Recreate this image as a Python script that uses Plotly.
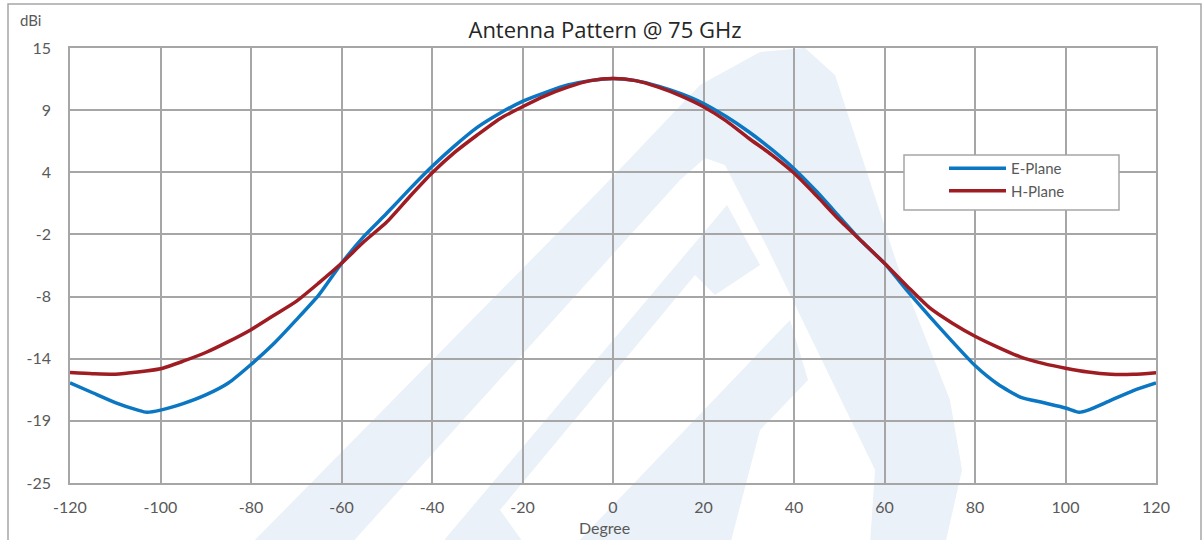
import plotly.graph_objects as go

# ---------------- data ----------------
e_deg = [-120, -115, -110, -105, -103, -100, -95, -90, -85, -80, -75, -70, -65, -60, -55, -50,
         -45, -40, -35, -30, -25, -20, -15, -10, -5, 0, 5, 10, 15, 20, 25, 30, 35, 40, 45,
         50, 55, 60, 65, 70, 75, 80, 85, 90, 95, 100, 103, 105, 110, 115, 120]
e_plane = [-15.8, -16.7, -17.6, -18.3, -18.5, -18.3, -17.7, -16.9, -15.8, -14.1, -12.2, -10.0,
           -7.7, -4.8, -2.3, -0.2, 2.0, 4.1, 6.0, 7.7, 9.0, 10.1, 10.9, 11.6, 12.0, 12.2, 12.0,
           11.5, 10.8, 9.9, 8.7, 7.3, 5.7, 3.9, 1.8, -0.5, -2.8, -4.8, -7.3, -9.7, -12.0,
           -14.2, -15.9, -17.1, -17.6, -18.1, -18.5, -18.3, -17.4, -16.5, -15.8]

h_deg = [-120, -115, -110, -105, -100, -95, -90, -85, -80, -75, -70, -65, -60, -55, -50, -45,
         -40, -35, -30, -25, -20, -15, -10, -5, 0, 5, 10, 15, 20, 25, 30, 35, 40, 45, 50, 55,
         60, 65, 70, 75, 80, 85, 90, 95, 100, 105, 110, 115, 120]
h_plane = [-14.85, -14.95, -15.0, -14.8, -14.5, -13.8, -13.0, -12.0, -10.9, -9.6, -8.3, -6.6,
           -4.8, -2.8, -1.0, 1.3, 3.5, 5.4, 7.0, 8.5, 9.6, 10.6, 11.4, 12.0, 12.2, 12.0, 11.4,
           10.6, 9.6, 8.3, 6.7, 5.2, 3.5, 1.4, -0.8, -2.8, -4.8, -6.9, -8.9, -10.3, -11.5,
           -12.5, -13.4, -14.0, -14.45, -14.8, -15.0, -15.0, -14.85]

y_tickvals = [-25 + k * 40 / 7 for k in range(8)]
y_ticktext = ["-25", "-19", "-14", "-8", "-2", "4", "9", "15"]
x_tickvals = [-120, -100, -80, -60, -40, -20, 0, 20, 40, 60, 80, 100, 120]
x_ticktext = ["-120", "-100", "-80", "-60", "-40", "-20", "0", "20", "40", "60", "80", "100", "120"]

# ---------------- layout helpers ----------------
W, H = 1203, 540
ML, MR, MT, MB = 70, 47, 48, 57
PW, PH = W - ML - MR, H - MT - MB


def px(x, y):
    """pixel -> paper coords (decoration only)"""
    return (x - ML) / PW, (H - MB - y) / PH


def path(points):
    s = ""
    for i, (x, y) in enumerate(points):
        X, Y = px(x, y)
        s += ("M" if i == 0 else "L") + f"{X:.4f},{Y:.4f} "
    return s + "Z"


WM = "#EBF1F8"
grey_txt = "#595959"
grid = "#A6A6A6"
FONT = "Lato, 'Open Sans', sans-serif"

fig = go.Figure()
fig.add_trace(go.Scatter(x=e_deg, y=e_plane, mode="lines", name="E-Plane",
                         line=dict(color="#0B77C2", width=3.5, shape="spline", smoothing=0.6)))
fig.add_trace(go.Scatter(x=h_deg, y=h_plane, mode="lines", name="H-Plane",
                         line=dict(color="#9E1C22", width=3.5, shape="spline", smoothing=0.6)))

shapes = []
# watermark (background logo)
arch = [(250, 545), (600, 190), (700, 85), (760, 52), (805, 48), (835, 75), (900, 273),
        (950, 400), (962, 470), (945, 545), (870, 545), (875, 470), (767, 247), (725, 165),
        (705, 158), (680, 180), (350, 545)]
chev2 = [(440, 545), (727, 205), (760, 265), (715, 295), (695, 275), (500, 510), (525, 545)]
chev3 = [(575, 545), (790, 320), (808, 380), (760, 430), (730, 545)]
for poly in (arch, chev2, chev3):
    shapes.append(dict(type="path", xref="paper", yref="paper", path=path(poly),
                       fillcolor=WM, line=dict(width=0), layer="below"))

# outer chart border
x0, y0 = px(8, 560)
x1, y1 = px(1201, 4)
shapes.append(dict(type="rect", xref="paper", yref="paper", x0=x0, y0=y0, x1=x1, y1=y1,
                   line=dict(color="#A6A6A6", width=1.5), fillcolor="rgba(0,0,0,0)",
                   layer="above"))
# legend box
lx0, ly0 = px(904, 210)
lx1, ly1 = px(1119, 155)
shapes.append(dict(type="rect", xref="paper", yref="paper", x0=lx0, y0=ly0, x1=lx1, y1=ly1,
                   line=dict(color="#A6A6A6", width=1.5), fillcolor="white", layer="above"))

lgx, lgy = px(944, 152)

fig.update_layout(
    width=W, height=H,
    margin=dict(l=ML, r=MR, t=MT, b=MB),
    paper_bgcolor="rgba(0,0,0,0)", plot_bgcolor="rgba(0,0,0,0)",
    font=dict(family=FONT, color=grey_txt, size=15),
    title=dict(text="Antenna Pattern @ 75 GHz", x=px(605, 0)[0], xref="paper",
               xanchor="center", y=1 - 30 / H, yanchor="middle",
               font=dict(family="'Open Sans', sans-serif", size=22, color="#262626")),
    showlegend=True,
    legend=dict(x=lgx, y=lgy, xanchor="left", yanchor="top", bgcolor="rgba(0,0,0,0)",
                borderwidth=0, itemwidth=57, font=dict(size=15, color=grey_txt),
                tracegroupgap=14),
    shapes=shapes,
    annotations=[
        dict(text="dBi", x=px(30, 20)[0], y=px(30, 20)[1], xref="paper", yref="paper",
             xanchor="center", yanchor="middle",
             showarrow=False, font=dict(size=15, color=grey_txt)),
        dict(text="Degree", x=px(604, 527)[0], y=px(604, 527)[1], xref="paper", yref="paper",
             xanchor="center", yanchor="middle",
             showarrow=False, font=dict(size=16, color=grey_txt)),
    ],
)
fig.update_xaxes(range=[-120, 120], tickvals=x_tickvals, ticktext=x_ticktext, showgrid=True,
                 gridcolor=grid, gridwidth=1.5, showline=True, linecolor=grid, linewidth=1.5,
                 mirror=True, zeroline=False, ticks="", ticklabelstandoff=9,
                 tickfont=dict(size=16, color=grey_txt))
fig.update_yaxes(range=[-25, 15], tickvals=y_tickvals, ticktext=y_ticktext, showgrid=True,
                 gridcolor=grid, gridwidth=1.5, showline=True, linecolor=grid, linewidth=1.5,
                 mirror=True, zeroline=False, ticks="", ticklabelstandoff=14,
                 tickfont=dict(size=16, color=grey_txt))

fig.write_html("out.html", config={"displayModeBar": False},
               post_script="document.body.style.margin='0px';document.body.style.overflow='hidden';")
